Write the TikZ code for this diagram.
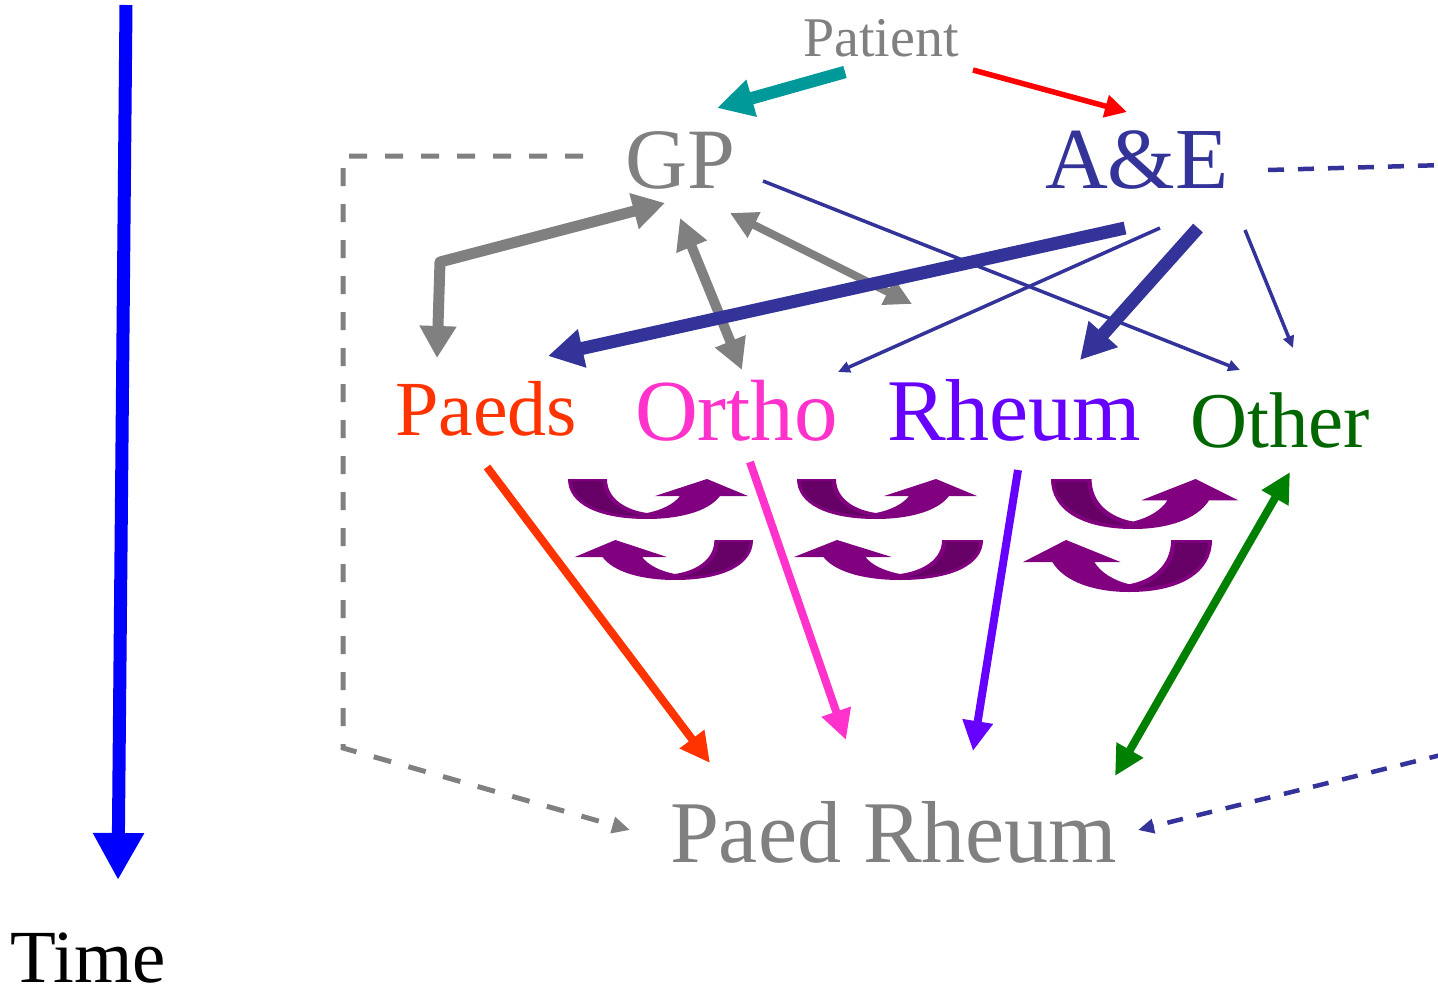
\documentclass[tikz,border=0pt]{standalone}
\usepackage{fontspec}
\setmainfont{Liberation Serif}
\usetikzlibrary{arrows.meta}
\definecolor{grayc}{RGB}{128,128,128}
\definecolor{navy}{RGB}{51,51,153}
\definecolor{teal2}{RGB}{0,153,153}
\definecolor{paedsc}{RGB}{255,51,0}
\definecolor{orthoc}{RGB}{255,51,204}
\definecolor{rheumc}{RGB}{102,0,255}
\definecolor{otherc}{RGB}{0,102,0}
\definecolor{greenarr}{RGB}{0,128,0}
\definecolor{purp}{RGB}{128,0,128}
\definecolor{dpurp}{RGB}{102,0,102}
\tikzset{
  lbl/.style={anchor=base west, inner sep=0pt, outer sep=0pt},
  fsz/.style={font=\fontsize{#1}{#1}\selectfont},
  curvy/.pic={
    \fill[purp] (0,0) -- (39,0) .. controls (39,20) and (58,31) .. (79,34)
      .. controls (94,31) and (106,25) .. (112,17) -- (87,17) -- (139,0) -- (180,17) -- (152,17)
      .. controls (140,33) and (110,40) .. (79,40) .. controls (30,40) and (0,25) .. (0,0) -- cycle;
    \fill[dpurp] (4,2) -- (35,2) .. controls (35,22) and (55,33) .. (73,37)
      .. controls (35,36) and (4,24) .. (4,2) -- cycle;
  }
}
\begin{document}
\begin{tikzpicture}[x=1pt,y=-1pt]
\useasboundingbox (0,0) rectangle (1438,998);
% nodes
\node[lbl,fsz=56,text=grayc] (Pat) at (803,57) {Patient};
\node[lbl,fsz=86,text=grayc] (GP) at (625,188) {GP};
\node[lbl,fsz=87,text=navy] (AE) at (1045,188) {A\&E};
\node[lbl,fsz=78,text=paedsc] (Paeds) at (395,435) {Paeds};
\node[lbl,fsz=87,text=orthoc] (Ortho) at (635,440) {Ortho};
\node[lbl,fsz=88,text=rheumc] (Rheum) at (887,440) {Rheum};
\node[lbl,fsz=79,text=otherc] (Other) at (1190,447) {Other};
\node[lbl,fsz=88,text=grayc] (PR) at (670,862) {Paed Rheum};
\node[lbl,fsz=75,text=black] (Time) at (10,982) {Time};
\coordinate (edgeA) at (1445,165);
\coordinate (edgeB) at (1445,754);
% curved arrows
\pic at (568,479) {curvy};
\pic[xscale=-0.99] at (753,540) {curvy};
\pic at (797,479) {curvy};
\pic[xscale=-1.05] at (983,540) {curvy};
\pic[xscale=1.04,yscale=1.25] at (1051,479) {curvy};
\pic[xscale=-1.05,yscale=1.3] at (1212,540) {curvy};
% time arrow
\draw[blue,line width=13pt,-{Triangle[length=47pt,width=48pt]}]
  ([shift={(116,-977)}]Time.base west) -- ([shift={(108,-102)}]Time.base west);
% patient arrows
\draw[teal2,line width=12.5pt,-{Triangle[length=36pt,width=36pt]}]
  ([shift={(42,15)}]Pat.base west) -- ([shift={(92,-80)}]GP.base west);
\draw[red,line width=5.5pt,-{Triangle[length=22pt,width=22pt]}]
  ([shift={(170,13)}]Pat.base west) -- ([shift={(82,-76)}]AE.base west);
% dashed
\draw[grayc,line width=5pt,dash pattern=on 18pt off 18pt,-{Triangle[length=18pt,width=16pt]}]
  ([shift={(-42,-32)}]GP.base west) -- ++(-240,0) -- ++(0,592) -- ([shift={(-40,-32)}]PR.base west);
\draw[navy,line width=4.5pt,dash pattern=on 16pt off 14pt]
  ([shift={(223,-18)}]AE.base west) -- (edgeA);
\draw[navy,line width=4.5pt,dash pattern=on 16pt off 14pt,-{Triangle[length=16pt,width=14pt]}]
  (edgeB) -- ([shift={(468,-32)}]PR.base west);
% grey GP arrows
\draw[grayc,line width=11pt,line join=round,{Triangle[length=32pt,width=35pt]}-{Triangle[length=32pt,width=35pt]}]
  ([shift={(40,15)}]GP.base west) -- ([shift={(45,-173)}]Paeds.base west) -- ([shift={(42,-77)}]Paeds.base west);
\draw[grayc,line width=10pt,{Triangle[length=31pt,width=31pt]}-{Triangle[length=31pt,width=31pt]}]
  ([shift={(55,30)}]GP.base west) -- ([shift={(107,-70)}]Ortho.base west);
\draw[grayc,line width=8pt,{Triangle[length=27pt,width=27pt]}-{Triangle[length=27pt,width=27pt]}]
  ([shift={(105,25)}]GP.base west) -- ([shift={(25,-136)}]Rheum.base west);
\draw[navy,line width=3.5pt,-{Triangle[length=12pt,width=11pt]}]
  ([shift={(138,-7)}]GP.base west) -- ([shift={(50,-77)}]Other.base west);
% A&E arrows
\draw[navy,line width=13pt,-{Triangle[length=35pt,width=37pt]}]
  ([shift={(80,40)}]AE.base west) -- ([shift={(153,-79)}]Paeds.base west);
\draw[navy,line width=3.5pt,-{Triangle[length=12pt,width=11pt]}]
  ([shift={(115,40)}]AE.base west) -- ([shift={(203,-68)}]Ortho.base west);
\draw[navy,line width=13pt,-{Triangle[length=35pt,width=37pt]}]
  ([shift={(153,40)}]AE.base west) -- ([shift={(193,-80)}]Rheum.base west);
\draw[navy,line width=3.5pt,-{Triangle[length=12pt,width=11pt]}]
  ([shift={(200,42)}]AE.base west) -- ([shift={(103,-99)}]Other.base west);
% to Paed Rheum
\draw[paedsc,line width=8pt,-{Triangle[length=30pt,width=29pt]}]
  ([shift={(92,32)}]Paeds.base west) -- ([shift={(40,-99)}]PR.base west);
\draw[orthoc,line width=8pt,-{Triangle[length=30pt,width=29pt]}]
  ([shift={(115,22)}]Ortho.base west) -- ([shift={(176,-122)}]PR.base west);
\draw[rheumc,line width=8pt,-{Triangle[length=30pt,width=29pt]}]
  ([shift={(131,30)}]Rheum.base west) -- ([shift={(303,-111)}]PR.base west);
\draw[greenarr,line width=8pt,{Triangle[length=30pt,width=29pt]}-{Triangle[length=30pt,width=29pt]}]
  ([shift={(100,25)}]Other.base west) -- ([shift={(445,-86)}]PR.base west);
\end{tikzpicture}
\end{document}
